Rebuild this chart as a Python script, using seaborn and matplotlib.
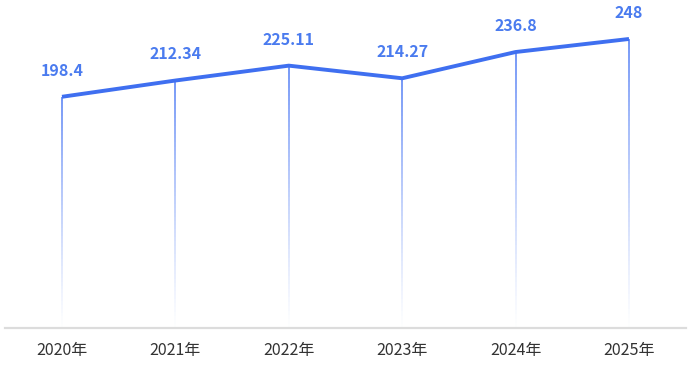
import numpy as np
import pandas as pd
import matplotlib
matplotlib.use("Agg")
import matplotlib.pyplot as plt
from matplotlib.collections import LineCollection
import seaborn as sns

years = ["2020年", "2021年", "2022年", "2023年", "2024年", "2025年"]
values = [198.4, 212.34, 225.11, 214.27, 236.8, 248]
labels = ["198.4", "212.34", "225.11", "214.27", "236.8", "248"]

sns.set_style("white")
plt.rcParams['font.family'] = ['Noto Sans CJK SC', 'DejaVu Sans']

df = pd.DataFrame({"year": years, "value": values})
df["pos"] = range(len(df))

fig = plt.figure(figsize=(7, 3.65), dpi=100)
ax = fig.add_axes([5.3 / 700, 1 - 328 / 365, 680.4 / 700, 317 / 365])

# fading drop lines under each point
segs, cols = [], []
n = 60
for x, v in zip(df["pos"], df["value"]):
    ys = np.linspace(v, 0, n + 1)
    for i in range(n):
        segs.append([(x, ys[i]), (x, ys[i + 1])])
        a = 0.85 * (1 - i / n) ** 1.2
        cols.append((0.36, 0.52, 0.96, a))
ax.add_collection(LineCollection(segs, colors=cols, linewidths=1.4, zorder=1))

sns.lineplot(data=df, x="pos", y="value", ax=ax, color="#3f6ff0",
             linewidth=2.8, zorder=3, solid_capstyle="butt")

for x, v, t in zip(df["pos"], df["value"], labels):
    ax.annotate(t, (x, v), xytext=(0, 13), textcoords="offset points",
                ha="center", va="bottom", fontsize=11.5, fontweight="bold",
                color="#4a7bef")

ax.set_xlim(-0.5, 5.5)
ax.set_ylim(0, 272)
ax.set_xticks(df["pos"])
ax.set_xticklabels(years, fontsize=11.5, color="#333333")
ax.set_yticks([])
ax.set_xlabel("")
ax.set_ylabel("")
ax.tick_params(axis="x", length=0, pad=10)
for s in ["top", "right", "left"]:
    ax.spines[s].set_visible(False)
ax.spines["bottom"].set_color("#dcdcdc")
ax.spines["bottom"].set_linewidth(1.6)

fig.savefig("out.png", dpi=100)
